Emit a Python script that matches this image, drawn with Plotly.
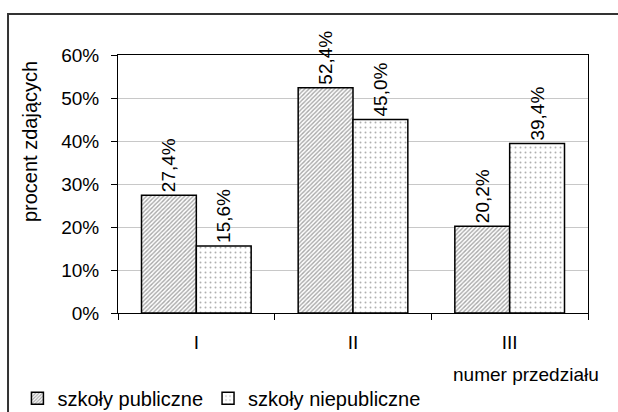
import plotly.graph_objects as go

categories = ["I", "II", "III"]
publiczne = [27.4, 52.4, 20.2]
niepubliczne = [15.6, 45.0, 39.4]
y_ticks = [0, 10, 20, 30, 40, 50, 60]

FONT = "Liberation Sans, Arial, sans-serif"


def pct_labels(vals):
    return [f"{v:.1f}%".replace(".", ",") for v in vals]


fig = go.Figure()
fig.add_trace(go.Bar(
    x=categories, y=publiczne, name="szkoły publiczne",
    text=pct_labels(publiczne), textposition="outside", textangle=-90,
    marker=dict(color="white", line=dict(color="black", width=1.5),
                pattern=dict(shape="/", fgcolor="#505050", bgcolor="white", size=3, solidity=0.45)),
    cliponaxis=False,
))
fig.add_trace(go.Bar(
    x=categories, y=niepubliczne, name="szkoły niepubliczne",
    text=pct_labels(niepubliczne), textposition="outside", textangle=-90,
    marker=dict(color="white", line=dict(color="black", width=1.5),
                pattern=dict(shape=".", fgcolor="#606060", bgcolor="white", size=5, solidity=0.12)),
    cliponaxis=False,
))

fig.update_traces(textfont=dict(family=FONT, size=19, color="black"))

fig.update_layout(
    width=618, height=412,
    margin=dict(l=118, r=30, t=55, b=99, autoexpand=False),
    paper_bgcolor="white", plot_bgcolor="white",
    font=dict(family=FONT, size=19, color="black"),
    barmode="group", bargap=0.3, bargroupgap=0,
    showlegend=True,
    legend=dict(orientation="h", x=-0.214, xanchor="left", y=-0.33, yanchor="middle",
                font=dict(size=20), tracegroupgap=0, bgcolor="rgba(0,0,0,0)"),
)
fig.update_xaxes(
    type="category", showline=True, linecolor="black", linewidth=1, mirror=True,
    ticks="outside", tickson="boundaries", ticklen=6, tickcolor="black",
    ticklabelstandoff=12, showgrid=False,
)
fig.update_yaxes(
    range=[0, 60], tickmode="array", tickvals=y_ticks,
    ticktext=[f"{v}%" for v in y_ticks],
    showline=True, linecolor="black", linewidth=1, mirror=True,
    ticks="outside", ticklen=6, tickcolor="black", ticklabelstandoff=8,
    showgrid=True, gridcolor="#c8c8c8", gridwidth=1, zeroline=False,
)

fig.add_annotation(text="procent zdających", textangle=-90, xref="paper", yref="paper",
                   x=-0.187, y=0.663, xanchor="center", yanchor="middle",
                   showarrow=False, font=dict(size=20))
fig.add_annotation(text="numer przedziału", xref="paper", yref="paper",
                   x=0.868, y=-0.24, xanchor="center", yanchor="middle",
                   showarrow=False, font=dict(size=19))

# outer frame of the whole chart
fig.add_shape(type="rect", xref="paper", yref="paper", x0=-0.234, y0=-0.6, x1=1.2, y1=1.159,
              line=dict(color="#333333", width=2), layer="below")

fig.write_html("out.html", config={"displayModeBar": False},
               post_script="document.body.style.margin='0';")
